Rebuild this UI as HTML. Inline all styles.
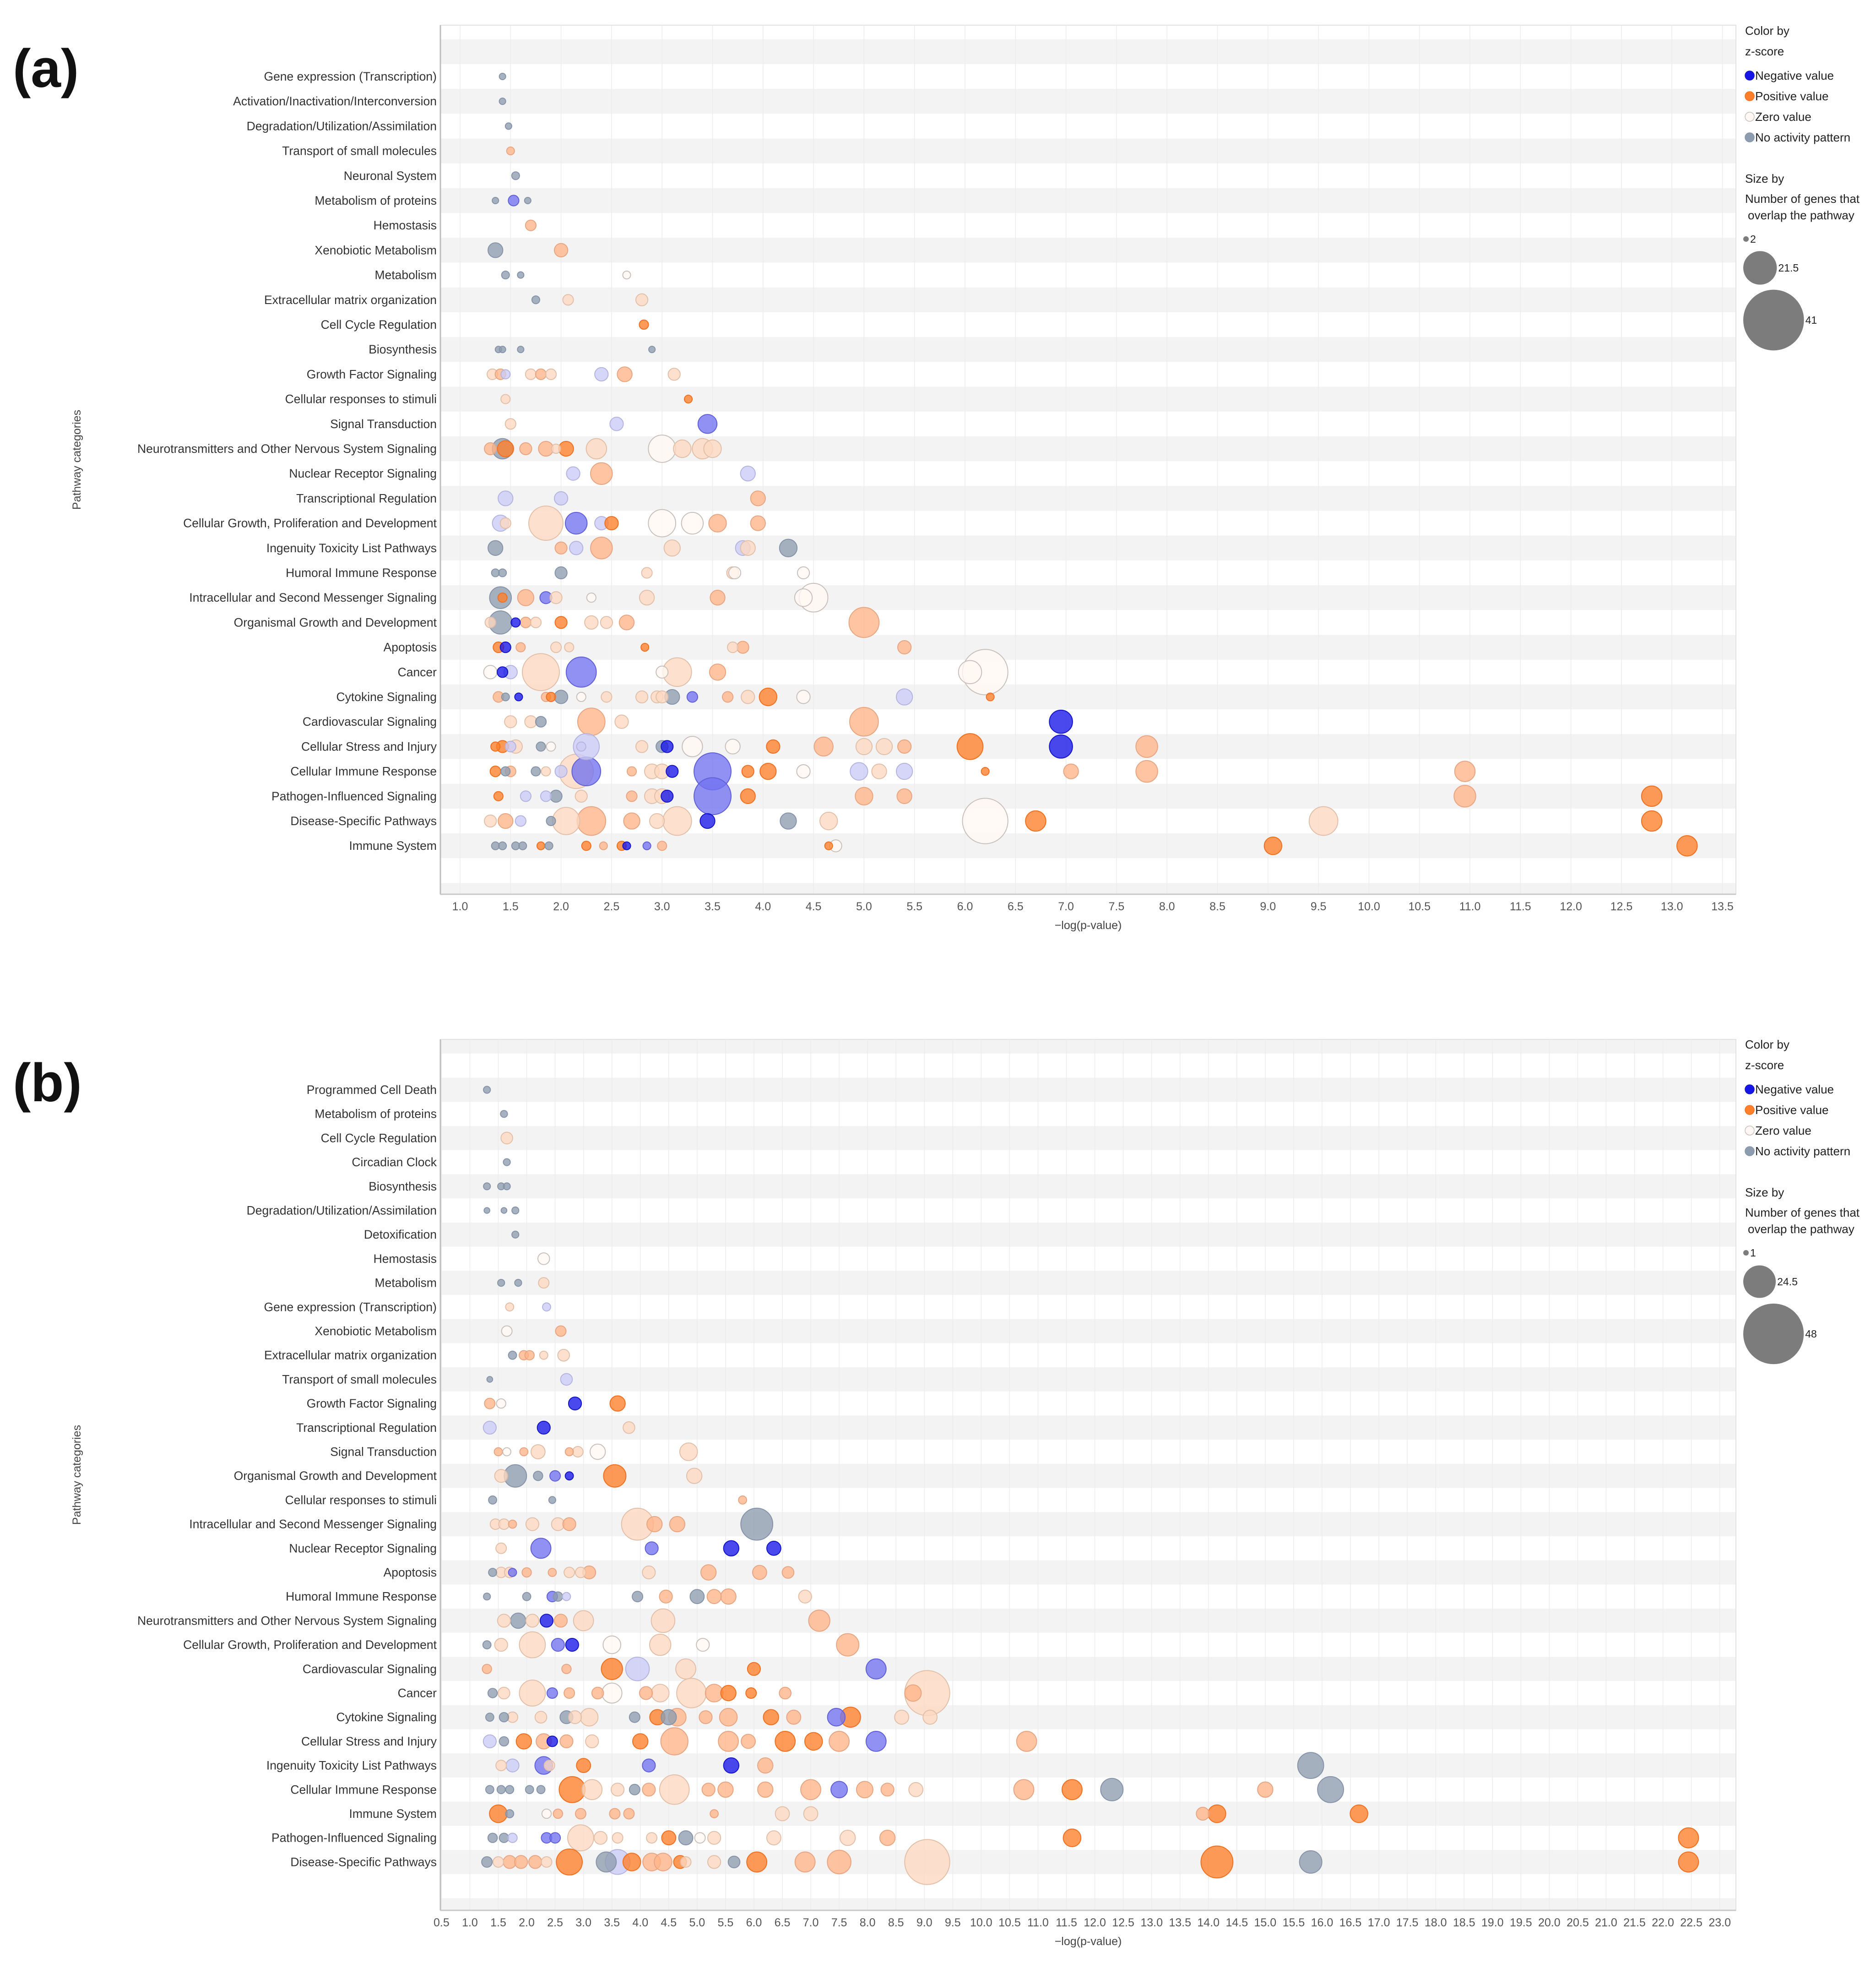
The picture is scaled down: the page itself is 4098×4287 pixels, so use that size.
<!DOCTYPE html>
<html><head><meta charset="utf-8">
<style>
html,body{margin:0;padding:0;background:#fff;}
svg{display:block;}
text{font-family:"Liberation Sans",sans-serif;}
</style></head>
<body>
<svg id="chart" width="4098" height="4287" viewBox="0 0 4098 4287" xmlns="http://www.w3.org/2000/svg">
<rect x="0" y="0" width="4098" height="4287" fill="#fff"/>
</svg>
<script>
// ===== Panel (a) data =====
const aCats = ["Gene expression (Transcription)","Activation/Inactivation/Interconversion","Degradation/Utilization/Assimilation","Transport of small molecules","Neuronal System","Metabolism of proteins","Hemostasis","Xenobiotic Metabolism","Metabolism","Extracellular matrix organization","Cell Cycle Regulation","Biosynthesis","Growth Factor Signaling","Cellular responses to stimuli","Signal Transduction","Neurotransmitters and Other Nervous System Signaling","Nuclear Receptor Signaling","Transcriptional Regulation","Cellular Growth, Proliferation and Development","Ingenuity Toxicity List Pathways","Humoral Immune Response","Intracellular and Second Messenger Signaling","Organismal Growth and Development","Apoptosis","Cancer","Cytokine Signaling","Cardiovascular Signaling","Cellular Stress and Injury","Cellular Immune Response","Pathogen-Influenced Signaling","Disease-Specific Pathways","Immune System"];
const aTicks = [1.0,1.5,2.0,2.5,3.0,3.5,4.0,4.5,5.0,5.5,6.0,6.5,7.0,7.5,8.0,8.5,9.0,9.5,10.0,10.5,11.0,11.5,12.0,12.5,13.0,13.5];
const aX = [
[1.42],[1.42],[1.48],[1.5],[1.55],[1.35,1.53,1.67],[1.7],[1.35,2.0],[1.45,1.6,2.65],[1.75,2.07,2.8],[2.82],[1.38,1.42,1.6,2.9],
[1.32,1.4,1.45,1.7,1.8,1.9,2.4,2.63,3.12],[1.45,3.26],[1.5,2.55,3.45],
[1.3,1.42,1.45,1.65,1.85,1.95,2.05,2.35,3.0,3.2,3.4,3.5],[2.12,2.4,3.85],[1.45,2.0,3.95],
[1.4,1.45,1.85,2.15,2.4,2.5,3.0,3.3,3.55,3.95],[1.35,2.0,2.15,2.4,3.1,3.8,3.85,4.25],
[1.35,1.42,2.0,2.85,3.7,3.72,4.4],[1.4,1.42,1.65,1.85,1.95,2.3,2.85,3.55,4.4,4.5],
[1.3,1.4,1.55,1.65,1.75,2.0,2.3,2.45,2.65,5.0],[1.38,1.45,1.6,1.95,2.08,2.83,3.7,3.8,5.4],
[1.3,1.42,1.5,1.8,2.2,3.0,3.15,3.55,6.05,6.2],
[1.38,1.45,1.58,1.85,1.9,2.0,2.2,2.45,2.8,2.95,3.0,3.1,3.3,3.65,3.85,4.05,4.4,5.4,6.25],
[1.5,1.7,1.8,2.3,2.6,5.0,6.95],
[1.35,1.42,1.5,1.55,1.8,1.9,2.2,2.25,2.8,3.0,3.05,3.3,3.7,4.1,4.6,5.0,5.2,5.4,6.05,6.95,7.8],
[1.35,1.45,1.5,1.75,1.85,2.0,2.15,2.25,2.7,2.9,3.0,3.1,3.5,3.85,4.05,4.4,4.95,5.15,5.4,6.2,7.05,7.8,10.95],
[1.38,1.65,1.85,1.95,2.2,2.7,2.9,3.0,3.05,3.5,3.85,5.0,5.4,10.95,12.8],
[1.3,1.45,1.6,1.9,2.05,2.3,2.7,2.95,3.15,3.45,4.25,4.65,6.2,6.7,9.55,12.8],
[1.35,1.42,1.55,1.62,1.8,1.88,2.25,2.42,2.6,2.65,2.85,3.0,4.65,4.72,9.05,13.15]
];
const aZ = ["g","g","g","o","g","gbg","o","go","ggw","gpp","O","gggg","polpoplop","pO","plb","ogOoopOpwppp","lol","llo","lppblOwwoo","goloplpg","gggppww","gOobpwpoww","pgBopOppoo","OBoppOpoo","wBlpbwpoww","ogBoOgwppppgbopOwlO","ppgopoB","OOlpgwllpgBwwOoppoOBo","OgogplpboppBbOOwlplOooo","OllgpoppBbOoooO","polgpooppBgpwOpO","ggggOgOoOBboOwOO"];
const aN = [
[2],[2],[2],[3],[3],[2,5,2],[5],[8,7],[3,2,3],[3,5,6],[4],[2,2,2,2],
[5,5,4,5,5,5,7,8,6],[4,3],[5,7,11],
[6,12,9,6,8,4,8,12,17,10,12,10],[7,13,8],[8,7,8],
[9,5,22,13,7,7,17,13,10,8],[8,6,7,13,9,8,8,10],
[3,3,6,5,6,6,6],[13,4,9,6,6,4,8,8,10,18],
[5,14,4,5,5,6,7,6,8,19],[5,5,4,5,4,3,5,6,7],
[7,5,7,24,19,6,18,9,14,30],
[5,3,3,4,4,7,4,5,6,6,6,8,5,5,7,10,7,9,3],
[6,6,5,17,7,18,14],
[4,6,5,7,4,4,4,16,6,6,6,12,8,7,11,9,9,7,16,14,13],
[5,4,5,4,4,6,22,18,4,8,8,6,24,6,9,7,10,8,9,3,8,13,12],
[4,5,5,6,6,5,8,8,6,24,8,10,8,13,12],
[6,8,5,4,17,18,9,8,18,8,9,10,30,12,18,12],
[3,3,3,3,3,3,4,3,4,3,3,4,3,6,10,12]
];
const aSizeLegend = [2,21.5,41];

// ===== Panel (b) data =====
const bCats = ["Programmed Cell Death","Metabolism of proteins","Cell Cycle Regulation","Circadian Clock","Biosynthesis","Degradation/Utilization/Assimilation","Detoxification","Hemostasis","Metabolism","Gene expression (Transcription)","Xenobiotic Metabolism","Extracellular matrix organization","Transport of small molecules","Growth Factor Signaling","Transcriptional Regulation","Signal Transduction","Organismal Growth and Development","Cellular responses to stimuli","Intracellular and Second Messenger Signaling","Nuclear Receptor Signaling","Apoptosis","Humoral Immune Response","Neurotransmitters and Other Nervous System Signaling","Cellular Growth, Proliferation and Development","Cardiovascular Signaling","Cancer","Cytokine Signaling","Cellular Stress and Injury","Ingenuity Toxicity List Pathways","Cellular Immune Response","Immune System","Pathogen-Influenced Signaling","Disease-Specific Pathways"];
const bTicks = [0.5,1.0,1.5,2.0,2.5,3.0,3.5,4.0,4.5,5.0,5.5,6.0,6.5,7.0,7.5,8.0,8.5,9.0,9.5,10.0,10.5,11.0,11.5,12.0,12.5,13.0,13.5,14.0,14.5,15.0,15.5,16.0,16.5,17.0,17.5,18.0,18.5,19.0,19.5,20.0,20.5,21.0,21.5,22.0,22.5,23.0];
const bX = [
[1.3],[1.6],[1.65],[1.65],[1.3,1.55,1.65],[1.3,1.6,1.8],[1.8],[2.3],[1.55,1.85,2.3],[1.7,2.35],[1.65,2.6],
[1.75,1.95,2.05,2.3,2.65],[1.35,2.7],[1.35,1.55,2.85,3.6],[1.35,2.3,3.8],
[1.5,1.65,1.95,2.2,2.75,2.9,3.25,4.85],[1.55,1.8,2.2,2.5,2.75,3.55,4.95],[1.4,2.45,5.8],
[1.45,1.6,1.75,2.1,2.55,2.75,3.95,4.25,4.65,6.05],[1.55,2.25,4.2,5.6,6.35],
[1.4,1.55,1.7,1.75,2.0,2.45,2.75,2.95,3.1,4.15,5.2,6.1,6.6],
[1.3,2.0,2.45,2.55,2.7,3.95,4.45,5.0,5.3,5.55,6.9],
[1.6,1.85,2.1,2.35,2.6,3.0,4.4,7.15],
[1.3,1.55,2.1,2.55,2.8,3.5,4.35,5.1,7.65],
[1.3,2.7,3.5,3.95,4.8,6.0,8.15],
[1.4,1.6,2.1,2.45,2.75,3.25,3.5,4.1,4.35,4.9,5.3,5.55,5.95,6.55,8.8,9.05],
[1.35,1.6,1.75,2.25,2.7,2.85,3.1,3.9,4.3,4.5,4.65,5.15,5.55,6.3,6.7,7.45,7.7,8.6,9.1],
[1.35,1.6,1.95,2.3,2.45,2.7,3.15,4.0,4.6,5.55,5.9,6.55,7.05,7.5,8.15,10.8],
[1.55,1.75,2.3,2.4,3.0,4.15,5.6,6.2,15.8],
[1.35,1.55,1.7,2.05,2.25,2.8,3.15,3.6,3.9,4.15,4.6,5.2,5.5,6.2,7.0,7.5,7.95,8.35,8.85,10.75,11.6,12.3,15.0,16.15],
[1.5,1.7,2.35,2.55,2.95,3.55,3.8,5.3,6.5,7.0,13.9,14.15,16.65],
[1.4,1.6,1.75,2.35,2.5,2.95,3.3,3.6,4.2,4.5,4.8,5.05,5.3,6.35,7.65,8.35,11.6,22.45],
[1.3,1.5,1.7,1.9,2.15,2.35,2.75,3.4,3.6,3.85,4.2,4.4,4.7,4.8,5.3,5.65,6.05,6.9,7.5,9.05,14.15,15.8,22.45]
];
const bZ = ["g","g","p","g","ggg","ggg","g","w","ggp","pl","wo","goopp","gl","owBO","lBp","owopopwp","pggbBOp","ggo","ppoppopoog","pbbBB","gppbooppopooo","ggbglgogoop","pgpBoppo","gppbBwpwo","ooOlpOb","gppboowoppoOOoop","ggppgppgOgoooOobOpp","lgOoBopOoooOOobo","plbpObBog","gggggOppgopoooo"+"b"+"oopoOgog","Ogwooooopp"+"oOO","gglbb"+"pppp"+"Ogw"+"ppp"+"oOO","gpooopOglOooOppgOoopOgO"];
const bN = [
[3],[3],[7],[3],[3,3,3],[2,2,3],[3],[7],[3,3,6],[4,4],[6,6],
[4,5,5,4,7],[2,7],[6,5,8,10],[8,8,7],
[4,4,4,9,4,6,10,12],[8,16,5,6,4,16,10],[4,3,4],
[6,6,4,8,8,8,24,10,10,24],[6,14,8,10,9],
[4,6,6,4,5,4,6,6,8,8,10,9,7],
[3,4,6,5,4,6,8,9,9,10,8],
[8,10,8,8,8,14,17,15],
[4,8,19,8,8,12,15,8,16],
[5,5,15,17,14,8,14],
[5,7,19,6,6,7,14,8,12,22,12,10,6,7,11,35],
[4,5,6,7,8,8,12,6,10,10,12,8,12,10,9,12,14,9,9],
[8,5,10,10,6,8,8,10,20,14,9,14,12,14,14,14],
[6,8,12,6,9,8,10,10,19],
[4,4,4,4,4,19,14,8,6,8,22,8,10,10,14,11,11,8,9,14,14,16,10,19],
[12,4,5,5,6,6,6,4,9,9,8,12,12],
[5,5,5,6,6,19,8,6,6,9,9,6,8,9,10,10,12,14],
[6,6,8,8,8,6,19,14,18,12,12,12,8,6,8,7,14,14,17,35,24,16,14]
];
const bSizeLegend = [1,24.5,48];

const legendLabels = ["Negative value","Positive value","Zero value","No activity pattern"];
const legendCodes = ["B","O","w","g"];

const FILL = {g:"#8e9caf",B:"#1616e8",b:"#7272f0",l:"#cbcbf6",O:"#ff7f2a",o:"#ffb488",p:"#fdd8c0",w:"#fff8f4"};
const STROKE = {g:"#8594a8",B:"#1414c8",b:"#6060d8",l:"#b4b4e0",O:"#f07020",o:"#e8a582",p:"#e2bfa8",w:"#c8c0bc"};

const NS = "http://www.w3.org/2000/svg";
const svg = document.getElementById("chart");
function mk(tag, attrs, parent){
  const e = document.createElementNS(NS, tag);
  for (const k in attrs) e.setAttribute(k, attrs[k]);
  (parent||svg).appendChild(e);
  return e;
}

function drawPanel(cfg){
  const g = mk("g", {});
  
  
  const xs = v => cfg.x0 + (v - cfg.v0) * cfg.pxPerUnit;
  const ys = i => cfg.y0 + i * cfg.rowH;
  const bg = mk("rect", {x:cfg.left, y:cfg.top, width:cfg.right-cfg.left, height:cfg.bottom-cfg.top, fill:"#fff", stroke:"#e2e2e2", "stroke-width":2}, g);
  
  
  for (let i = -3; i <= cfg.cats.length + 3; i++){
    const isGrey = ((i % 2) + 2) % 2 === cfg.greyParity;
    if (!isGrey) continue;
    let y1 = ys(i) - cfg.rowH/2, y2 = ys(i) + cfg.rowH/2;
    y1 = Math.max(y1, cfg.top+1); y2 = Math.min(y2, cfg.bottom-1);
    if (y2 <= y1) continue;
    const s = mk("rect", {x:cfg.left+1, y:y1, width:cfg.right-cfg.left-2, height:y2-y1, fill:"#f3f3f3"}, g);
    
    
  }
  cfg.ticks.forEach(t => {
    const x = xs(t);
    const gl = mk("line", {x1:x, x2:x, y1:cfg.top, y2:cfg.bottom, stroke:"#ececec", "stroke-width":1.5}, g);
    
    
    const tl = mk("text", {x:x, y:cfg.bottom+35, "text-anchor":"middle", "font-size":25, fill:"#555"}, g);
    tl.textContent = t.toFixed(1);
    
    
  });
  const ax = mk("line", {x1:cfg.left, x2:cfg.left, y1:cfg.top, y2:cfg.bottom, stroke:"#bdbdbd", "stroke-width":3}, g);
  
  
  const bx = mk("line", {x1:cfg.left, x2:cfg.right, y1:cfg.bottom, y2:cfg.bottom, stroke:"#c8c8c8", "stroke-width":3}, g);
  
  
  cfg.cats.forEach((c, i) => {
    const t = mk("text", {x:cfg.left-8, y:ys(i)+9, "text-anchor":"end", "font-size":26.5, fill:"#333"}, g);
    t.textContent = c;
    
    
  });
  const pts = [];
  cfg.X.forEach((row, i) => {
    row.forEach((v, j) => pts.push({i, v, z: cfg.Z[i][j], n: cfg.N[i][j]}));
  });
  pts.sort((a,b) => b.n - a.n);
  pts.forEach(p => {
    const r = cfg.r0 + cfg.rk * p.n;
    const c = mk("circle", {cx:xs(p.v), cy:ys(p.i), r:r, fill:FILL[p.z], stroke:STROKE[p.z], "stroke-width":2, "fill-opacity":0.78}, g);
    
    
  });
  const xt = mk("text", {x:(cfg.left+cfg.right)/2, y:cfg.bottom+76, "text-anchor":"middle", "font-size":25, fill:"#444"}, g);
  xt.textContent = "\u2212log(p-value)";
  
  
  const yt = mk("text", {x:0, y:0, transform:`translate(176,${(cfg.top+cfg.bottom)/2}) rotate(-90)`, "text-anchor":"middle", "font-size":25, fill:"#444"}, g);
  yt.textContent = "Pathway categories";
  
  
  const pl = mk("text", {x:28, y:cfg.labelY, "font-size":118, "font-weight":"bold", fill:"#111"}, g);
  pl.textContent = cfg.label;
  
  
  const L = cfg.leg;
  const lg = mk("g", {}, g);
  
  
  const t1 = mk("text", {x:3812, y:L+8, "font-size":26, fill:"#222"}, lg); t1.textContent = "Color by";
  
  
  const t2 = mk("text", {x:3812, y:L+53, "font-size":26, fill:"#222"}, lg); t2.textContent = "z-score";
  
  
  legendLabels.forEach((lab, k) => {
    const y = L + 97 + k*45;
    const d = mk("circle", {cx:3822, cy:y, r:10, fill:FILL[legendCodes[k]], stroke:STROKE[legendCodes[k]], "stroke-width":1.5}, lg);
    
    
    const t = mk("text", {x:3834, y:y+9, "font-size":26, fill:"#222"}, lg); t.textContent = lab;
    
    
  });
  const s1 = mk("text", {x:3812, y:L+331, "font-size":26, fill:"#222"}, lg); s1.textContent = "Size by";
  
  
  const s2 = mk("text", {x:3812, y:L+375, "font-size":26, fill:"#222"}, lg); s2.textContent = "Number of genes that";
  
  
  const s3 = mk("text", {x:3818, y:L+411, "font-size":26, fill:"#222"}, lg); s3.textContent = "overlap the pathway";
  
  
  const cys = [L+454, L+517, L+631];
  cfg.sizeLeg.forEach((n, k) => {
    const rr = k===0 ? 6 : cfg.r0 + cfg.rk*n;
    const cx = 3808 + rr;
    const c = mk("circle", {cx:cx, cy:cys[k], r:rr, fill:"#7c7c7c"}, lg);
    
    
    const t = mk("text", {x:cx+rr+3, y:cys[k]+8, "font-size":23, fill:"#222"}, lg); t.textContent = String(n);
    
    
  });
}

drawPanel({name:"panel-a", label:"(a)", labelY:190, cats:aCats, ticks:aTicks, X:aX, Z:aZ, N:aN, sizeLeg:aSizeLegend,
  left:962, right:3792, top:55, bottom:1953, x0:1005, v0:1.0, pxPerUnit:220.6, y0:167, rowH:54.2, greyParity:1,
  r0:4, rk:1.52, leg:68});
drawPanel({name:"panel-b", label:"(b)", labelY:2405, cats:bCats, ticks:bTicks, X:bX, Z:bZ, N:bN, sizeLeg:bSizeLegend,
  left:962, right:3792, top:2270, bottom:4172, x0:964.4, v0:0.5, pxPerUnit:124.1, y0:2380, rowH:52.7, greyParity:0,
  r0:3.7, rk:1.3, leg:2282});
</script>
</body></html>
